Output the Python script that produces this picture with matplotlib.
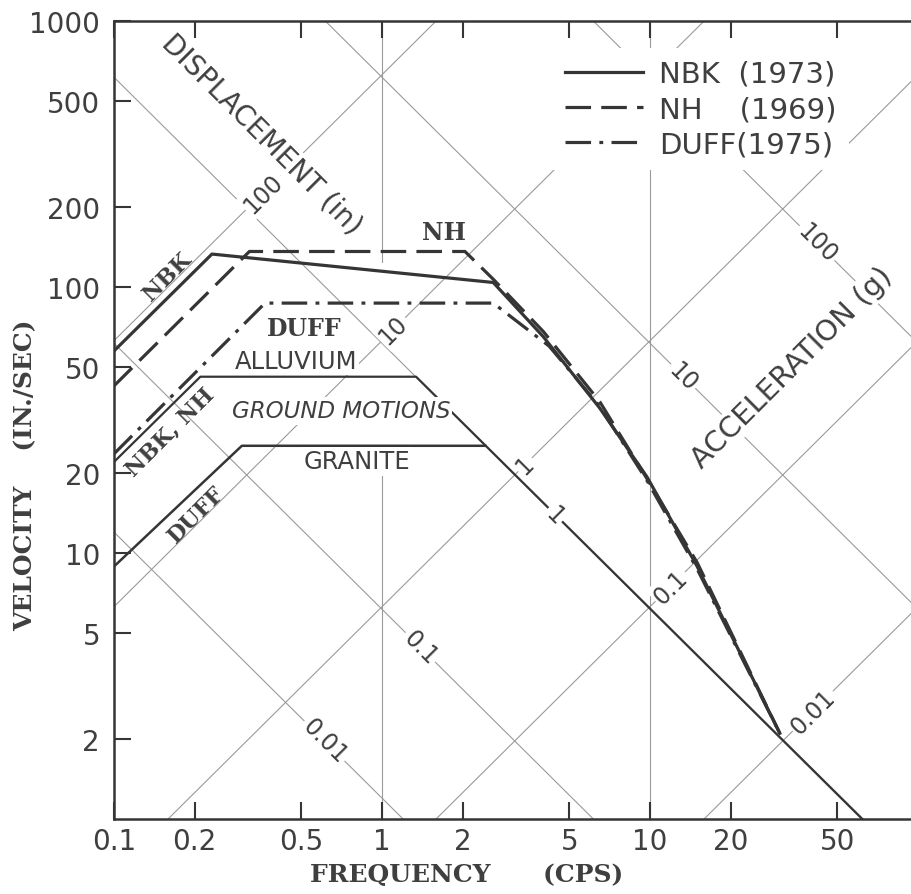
import numpy as np
import matplotlib
matplotlib.use('Agg')
import matplotlib.pyplot as plt

# --- axes ticks ---
FREQ_TICKS = [0.1, 0.2, 0.5, 1, 2, 5, 10, 20, 50]
FREQ_LABELS = ['0.1', '0.2', '0.5', '1', '2', '5', '10', '20', '50']
VEL_TICKS = [2, 5, 10, 20, 50, 100, 200, 500, 1000]
VEL_LABELS = ['2', '5', '10', '20', '50', '100', '200', '500', '1000']

# --- tripartite grid ---
DISP_IN = [100, 10, 1, 0.1, 0.01]
DISP_LABELS = ['100', '10', '1', '0.1', '0.01']
DISP_LABEL_F = [0.36, 1.1, 3.42, 11.9, 40.5]
# the "0.01" line sits off-decade in the original drawing
ACC_G = [0.0195, 0.1, 1, 10, 100]
ACC_LABELS = ['0.01', '0.1', '1', '10', '100']
ACC_LABEL_F = [0.61, 1.39, 4.42, 13.3, 42]
G_IN = 386.1  # in/s^2

# --- design spectra (freq cps, velocity in/sec) ---
NBK_F = [0.1, 0.232, 2.6, 4.0, 6.5, 9.75, 15, 30.5]
NBK_V = [57.5, 133, 104, 65, 35, 19.3, 8.9, 2.1]
NH_F = [0.1, 0.32, 2.04, 2.6, 4.0, 6.5, 9.75, 15, 30.5]
NH_V = [42.5, 136, 136, 107, 68, 37, 19.0, 9.2, 2.1]
DUFF_F = [0.1, 0.366, 2.6, 4.2, 6.5, 9.75, 15, 30.5]
DUFF_V = [23.6, 87, 87, 60, 35.5, 18.7, 8.7, 2.1]

# --- ground motions ---
ALLUV_F = [0.1, 0.21, 1.34, 62]
ALLUV_V = [22, 46, 46, 1.0]
GRAN_F = [0.1, 0.30, 2.43]
GRAN_V = [8.9, 25.3, 25.3]

INK = '#353535'
GRID = '#9a9a9a'
TXT = '#3f3f3f'

fig = plt.figure(figsize=(9.12, 8.95), dpi=100)
ax = fig.add_axes([0.125, 0.0838, 0.8816, 0.8916])
ax.set_xscale('log')
ax.set_yscale('log')
ax.set_xlim(0.1, 100)
ax.set_ylim(1, 1000)

# grid lines
f_end = np.array([0.1, 100.0])
for d in DISP_IN:
    ax.plot(f_end, 2 * np.pi * f_end * d, color=GRID, lw=0.8, zorder=1)
for a in ACC_G:
    ax.plot(f_end, a * G_IN / (2 * np.pi * f_end), color=GRID, lw=0.8, zorder=1)
ax.plot([1, 1], [1, 19.5], color=GRID, lw=0.8, zorder=1)
ax.plot([1, 1], [124, 1000], color=GRID, lw=0.8, zorder=1)
ax.plot([10, 10], [1, 1000], color=GRID, lw=0.8, zorder=1)

box = dict(fc='white', ec='none', pad=1.5)
for d, lab, f in zip(DISP_IN, DISP_LABELS, DISP_LABEL_F):
    ax.text(f, 2 * np.pi * f * d, lab, rotation=45, rotation_mode='anchor',
            ha='center', va='center', fontsize=17, color=TXT, bbox=box, zorder=4)
for a, lab, f in zip(ACC_G, ACC_LABELS, ACC_LABEL_F):
    ax.text(f, a * G_IN / (2 * np.pi * f), lab, rotation=-45, rotation_mode='anchor',
            ha='center', va='center', fontsize=17, color=TXT, bbox=box, zorder=4)

# ground motions
ax.plot(ALLUV_F, ALLUV_V, color=INK, lw=1.6, zorder=2)
ax.plot(GRAN_F, GRAN_V, color=INK, lw=1.8, zorder=2)

# spectra
l1, = ax.plot(NBK_F, NBK_V, color=INK, lw=2.3, zorder=3, label='NBK  (1973)')
l2, = ax.plot(NH_F, NH_V, color=INK, lw=2.3, ls=(0, (8, 3.2)), zorder=3,
              label='NH    (1969)')
l3, = ax.plot(DUFF_F, DUFF_V, color=INK, lw=2.3, ls=(0, (8, 2.6, 1.2, 2.6)),
              zorder=3, label='DUFF(1975)')

leg = ax.legend(handles=[l1, l2, l3], loc='upper left', bbox_to_anchor=(0.546, 0.966),
                borderaxespad=0, borderpad=0.4, fontsize=21, handlelength=2.67,
                handletextpad=0.58, labelspacing=0.25, frameon=True, fancybox=False)
leg.get_frame().set_facecolor('white')
leg.get_frame().set_edgecolor('none')
leg.get_frame().set_alpha(1)
for t in leg.get_texts():
    t.set_color(TXT)

# annotations
ax.text(0.356, 376, 'DISPLACEMENT (in)', rotation=-45, rotation_mode='anchor',
        ha='center', va='center', fontsize=20, color=TXT, bbox=box, zorder=4)
ax.text(33.9, 50, 'ACCELERATION (g)', rotation=45, rotation_mode='anchor',
        ha='center', va='center', fontsize=21, color=TXT, bbox=box, zorder=4)

serif = dict(family='DejaVu Serif', weight='bold', color=TXT)
ax.text(0.158, 110, 'NBK', rotation=45, rotation_mode='anchor', ha='center',
        va='center', fontsize=16, zorder=4, **serif)
ax.text(1.70, 161, 'NH', ha='center', va='center', fontsize=17, zorder=4, **serif)
ax.text(0.511, 70.2, 'DUFF', ha='center', va='center', fontsize=17, zorder=4, **serif)
ax.text(0.162, 28.7, 'NBK, NH', rotation=45, rotation_mode='anchor', ha='center',
        va='center', fontsize=16, zorder=4, **serif)
ax.text(0.204, 14.0, 'DUFF', rotation=45, rotation_mode='anchor', ha='center',
        va='center', fontsize=16, zorder=4, **serif)

ax.text(0.477, 52.7, 'ALLUVIUM', ha='center', va='center', fontsize=17.5,
        color=TXT, bbox=box, zorder=4)
ax.text(0.703, 34.2, 'GROUND MOTIONS', ha='center', va='center', fontsize=16.5,
        style='italic', color=TXT, bbox=box, zorder=4)
ax.text(0.807, 22.2, 'GRANITE', ha='center', va='center', fontsize=17.5,
        color=TXT, bbox=box, zorder=4)

# ticks
ax.set_xticks(FREQ_TICKS)
ax.set_xticklabels(FREQ_LABELS)
ax.set_yticks(VEL_TICKS)
ax.set_yticklabels(VEL_LABELS)
ax.minorticks_off()
ax.tick_params(axis='both', direction='in', length=12, width=1.5, color=INK,
               labelsize=20, labelcolor=TXT)
ax.tick_params(axis='x', top=True, pad=6)
ax.tick_params(axis='y', right=False, pad=10)
for s in ax.spines.values():
    s.set_linewidth(1.8)
    s.set_color(INK)

fig.text(0.512, 0.022, 'FREQUENCY      (CPS)', ha='center', va='center', fontsize=18,
         **serif)
fig.text(0.0274, 0.469, 'VELOCITY    (IN./SEC)', ha='center', va='center',
         rotation=90, fontsize=18, **serif)

fig.savefig('out.png', dpi=100)
